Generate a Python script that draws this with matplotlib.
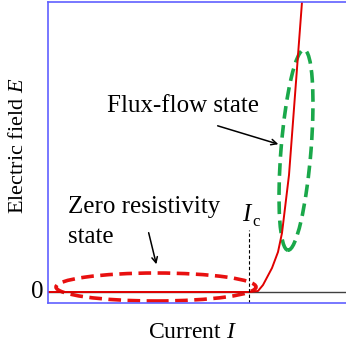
import matplotlib
matplotlib.use("Agg")
import matplotlib.pyplot as plt
from matplotlib.patches import Ellipse

plt.rcParams['font.family'] = 'Liberation Serif'
plt.rcParams['mathtext.fontset'] = 'custom'
plt.rcParams['mathtext.rm'] = 'Liberation Serif'
plt.rcParams['mathtext.it'] = 'Liberation Serif:italic'

# schematic E-I curve (arbitrary units)
current = [0, 202, 210, 215, 224, 230, 234, 241, 254, 257]
field = [0, 0, 1, 7, 24, 40, 59, 117, 290, 310]
critical_current = 201

fig = plt.figure(figsize=(3.46, 3.5), dpi=100)
ax = fig.add_axes([48 / 346, 47 / 350, 298 / 346, 301 / 350])
ax.set_xlim(0, 298)
ax.set_ylim(-11, 290)

ax.axhline(0, color='#404040', lw=1.0)
ax.plot(current, field, color='#e00000', lw=1.4)
ax.plot([critical_current, critical_current], [-11, 62], color='black',
        lw=0.8, ls=(0, (3, 2)))

ax.add_patch(Ellipse((108, 5), 200, 28, fill=False, ec='#e81010', lw=2.6,
                     ls=(0, (3.5, 1.8))))
ax.add_patch(Ellipse((248, 142), 30, 201, angle=-4.6, fill=False,
                     ec='#1aa84a', lw=2.6, ls=(0, (3.5, 1.8))))

fs = 18
ax.text(135, 186, 'Flux-flow state', fontsize=fs, ha='center', va='center')
ax.annotate('', xy=(233, 147), xytext=(167, 167),
            arrowprops=dict(arrowstyle='->', color='black', lw=1.1))
ax.text(20, 85, 'Zero resistivity', fontsize=fs, ha='left', va='center')
ax.text(20, 55, 'state', fontsize=fs, ha='left', va='center')
ax.annotate('', xy=(109, 25), xytext=(100, 62),
            arrowprops=dict(arrowstyle='->', color='black', lw=1.1))
ax.text(200, 77, '$I$', fontsize=fs, ha='center', va='center')
ax.text(208, 70, 'c', fontsize=12, ha='center', va='center')
ax.text(-4, 0, '0', fontsize=fs, ha='right', va='center')

ax.set_xlabel('Current $I$', fontsize=17)
ax.xaxis.set_label_coords(144 / 298, -19 / 301)
ax.set_ylabel('Electric field $E$', fontsize=16)
ax.yaxis.set_label_coords(-20 / 298, 157 / 301)

ax.set_xticks([])
ax.set_yticks([])
for side in ['left', 'top', 'bottom']:
    ax.spines[side].set_color('#6060ff')
    ax.spines[side].set_linewidth(1.2)
ax.spines['right'].set_visible(False)

fig.savefig('out.png', dpi=100)
